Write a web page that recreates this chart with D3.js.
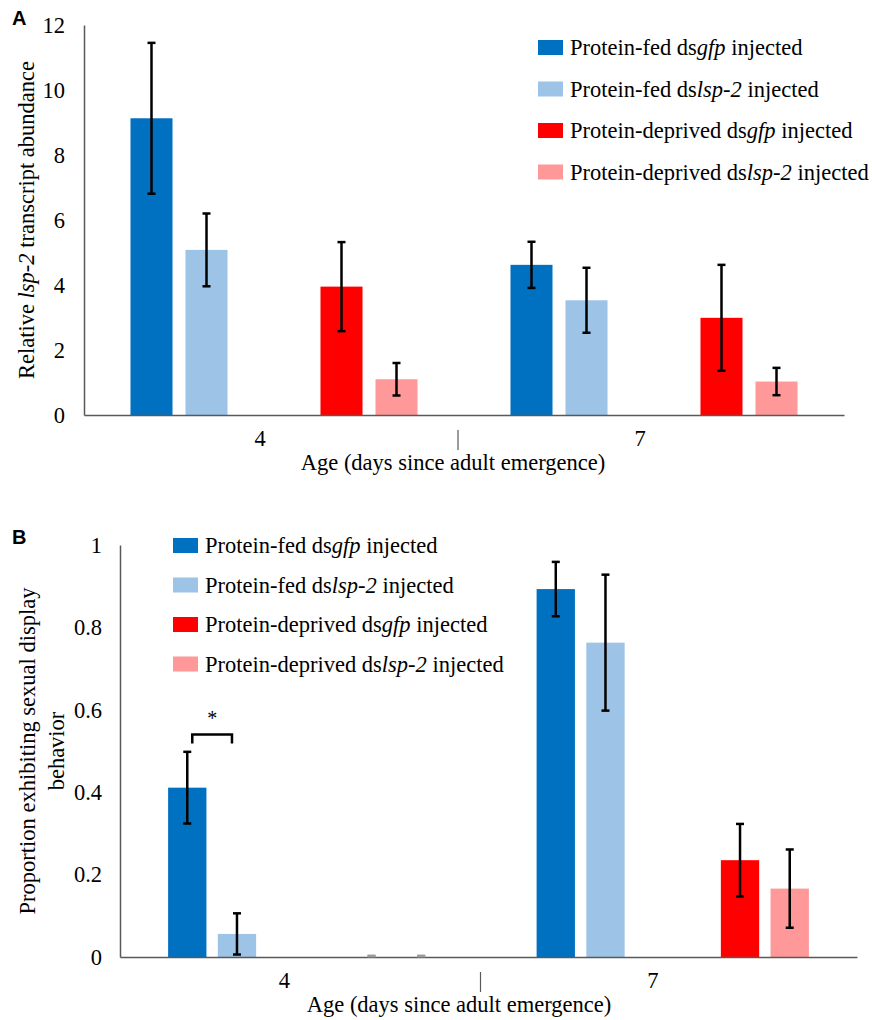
<!DOCTYPE html>
<html>
<head>
<meta charset="utf-8">
<script src="https://cdn.jsdelivr.net/npm/d3@7/dist/d3.min.js"></script>
<style>
  body { margin: 0; background: #fff; }
  .axis path { stroke: #595959; stroke-width: 1.5; }
</style>
</head>
<body>
<div id="chart"></div>
<script>
// categories
const days = ['4', '7'];
const diets = ['fed', 'deprived'];
const treatments = ['gfp', 'lsp'];

// legend labels, [plain, italic, plain]
const legendLabels = [
    ['Protein-fed ds', 'gfp', ' injected'],
    ['Protein-fed ds', 'lsp-2', ' injected'],
    ['Protein-deprived ds', 'gfp', ' injected'],
    ['Protein-deprived ds', 'lsp-2', ' injected']
];

// order: day4 fed gfp, day4 fed lsp, day4 dep gfp, day4 dep lsp, then day 7 the same
const transcriptMean = [9.13, 5.08, 3.95, 1.10, 4.62, 3.53, 2.99, 1.03];
const transcriptErr  = [2.32, 1.12, 1.37, 0.50, 0.71, 1.00, 1.63, 0.42];
const displayMean = [0.411, 0.056, 0, 0, 0.893, 0.763, 0.235, 0.166];
const displayErr  = [0.087, 0.050, 0, 0, 0.066, 0.165, 0.088, 0.095];

// y tick values
const transcriptTicks = [0, 2, 4, 6, 8, 10, 12];
const displayTicks = [0, 0.2, 0.4, 0.6, 0.8, 1];

// significance bracket (panel B)
const sigMarks = [{day: '4', diet: 'fed', y: 0.54, label: '*'}];

const colors = {
    'fed-gfp': '#0070C0',
    'fed-lsp': '#9DC3E6',
    'deprived-gfp': '#FF0000',
    'deprived-lsp': '#FF9999'
};

const SERIF = '"Liberation Serif", "Times New Roman", Times, serif';
const FS = 22.5;

// build rows from the flat arrays
function toRows(means, errs) {
    return means.map((m, i) => ({
        day: days[Math.floor(i / 4)],
        diet: diets[Math.floor(i / 2) % 2],
        treat: treatments[i % 2],
        value: m,
        err: errs[i]
    }));
}

// write a label made of plain/italic pieces
function richText(sel, parts) {
    parts.forEach((p, i) => {
        sel.append('tspan')
            .attr('font-style', i % 2 === 1 ? 'italic' : 'normal')
            .text(p);
    });
}

const svg = d3.select('#chart')
    .append('svg')
    .attr('width', 872)
    .attr('height', 1020)
    .style('background', '#fff');

function barPanel(opt) {
    const g = svg.append('g');
    const data = toRows(opt.means, opt.errs);

    // scales
    const xDay = d3.scaleBand()
        .domain(days)
        .range([opt.left, opt.right]);
    const xDiet = d3.scaleBand()
        .domain(diets)
        .range([0, xDay.bandwidth()]);
    const xTreat = d3.scaleBand()
        .domain(treatments)
        .range([0, xDiet.bandwidth()])
        .paddingInner(opt.padIn)
        .paddingOuter(opt.padOut);
    const y = d3.scaleLinear()
        .domain(opt.domain)
        .range([opt.bottom, opt.top]);

    const xOf = d => xDay(d.day) + xDiet(d.diet) + xTreat(d.treat);

    // bars
    g.selectAll('.bar')
        .data(data)
        .enter()
        .append('rect')
        .attr('class', 'bar')
        .attr('x', d => xOf(d))
        .attr('y', d => y(d.value))
        .attr('width', xTreat.bandwidth())
        .attr('height', d => y(0) - y(d.value))
        .attr('fill', d => colors[d.diet + '-' + d.treat]);

    // y axis
    const axisY = d3.axisLeft(y)
        .tickValues(opt.ticks)
        .tickFormat(d3.format('~g'))
        .tickSize(0)
        .tickSizeOuter(0)
        .tickPadding(opt.tickPad);
    g.append('g')
        .attr('class', 'axis')
        .attr('transform', `translate(${opt.left},0)`)
        .call(axisY);

    // x axis
    const axisX = d3.axisBottom(xDay)
        .tickSize(0)
        .tickSizeOuter(0)
        .tickPadding(15);
    const axX = g.append('g')
        .attr('class', 'axis')
        .attr('transform', `translate(0,${opt.bottom})`)
        .call(axisX);
    axX.selectAll('text').attr('dx', opt.labelShift);

    g.selectAll('.axis')
        .attr('font-family', SERIF)
        .attr('font-size', FS);

    // separator between the day groups
    g.append('line')
        .attr('x1', xDay('7') + opt.sepShift).attr('x2', xDay('7') + opt.sepShift)
        .attr('y1', opt.bottom + 15).attr('y2', opt.bottom + 35)
        .attr('stroke', '#595959')
        .attr('stroke-width', 1.2);

    // x title
    g.append('text')
        .attr('x', opt.titleX)
        .attr('y', opt.bottom + 55)
        .attr('text-anchor', 'middle')
        .attr('font-size', FS)
        .text('Age (days since adult emergence)');

    // error bars
    const cap = 4;
    const eb = g.selectAll('.err')
        .data(data)
        .enter()
        .append('g')
        .attr('class', 'err')
        .attr('stroke', d => d.value === 0 ? '#9a9a9a' : '#000')
        .attr('stroke-width', 2.5);
    eb.append('line')
        .attr('x1', d => xOf(d) + xTreat.bandwidth() / 2)
        .attr('x2', d => xOf(d) + xTreat.bandwidth() / 2)
        .attr('y1', d => y(d.value + d.err))
        .attr('y2', d => y(Math.max(0, d.value - d.err)));
    eb.append('line')
        .attr('x1', d => xOf(d) + xTreat.bandwidth() / 2 - cap)
        .attr('x2', d => xOf(d) + xTreat.bandwidth() / 2 + cap)
        .attr('y1', d => y(d.value + d.err) - (d.value === 0 ? 1 : 0))
        .attr('y2', d => y(d.value + d.err) - (d.value === 0 ? 1 : 0));
    eb.append('line')
        .attr('x1', d => xOf(d) + xTreat.bandwidth() / 2 - cap)
        .attr('x2', d => xOf(d) + xTreat.bandwidth() / 2 + cap)
        .attr('y1', d => y(Math.max(0, d.value - d.err)) - (d.value === 0 ? 1 : 0))
        .attr('y2', d => y(Math.max(0, d.value - d.err)) - (d.value === 0 ? 1 : 0));

    // significance brackets
    (opt.sig || []).forEach(s => {
        const xa = xDay(s.day) + xDiet(s.diet) + xTreat('gfp') + xTreat.bandwidth() / 2 + 5;
        const xb = xDay(s.day) + xDiet(s.diet) + xTreat('lsp') + xTreat.bandwidth() / 2 - 5;
        const yb = y(s.y);
        g.append('path')
            .attr('d', `M${xa},${yb + 9}V${yb}H${xb}V${yb + 9}`)
            .attr('fill', 'none')
            .attr('stroke', '#000')
            .attr('stroke-width', 2.5);
        g.append('text')
            .attr('x', (xa + xb) / 2)
            .attr('y', yb - 10)
            .attr('text-anchor', 'middle')
            .attr('font-size', 20)
            .text(s.label);
    });

    // legend
    const lg = g.append('g')
        .attr('transform', `translate(${opt.legendX},${opt.legendY})`);
    const item = lg.selectAll('.item')
        .data(legendLabels)
        .enter()
        .append('g')
        .attr('class', 'item')
        .attr('transform', (d, i) => `translate(0,${i * opt.legendStep})`);
    item.append('rect')
        .attr('x', 0)
        .attr('y', -7)
        .attr('width', 25)
        .attr('height', 15)
        .attr('fill', (d, i) => colors[diets[Math.floor(i / 2)] + '-' + treatments[i % 2]]);
    item.append('text')
        .attr('x', 32)
        .attr('y', 8)
        .attr('font-size', FS)
        .each(function(d) { richText(d3.select(this), d); });

    // all serif text so far
    g.selectAll('text').style('font-family', SERIF).attr('fill', '#000');

    // panel letter
    g.append('text')
        .attr('x', 12)
        .attr('y', opt.letterY)
        .attr('font-weight', 'bold')
        .attr('font-size', 20)
        .style('font-family', '"Liberation Sans", Arial, sans-serif')
        .text(opt.letter);

    return {g, y};
}

// panel A
const pA = barPanel({
    means: transcriptMean, errs: transcriptErr,
    left: 84, right: 844, top: 25, bottom: 415,
    domain: [0, 12], ticks: transcriptTicks, tickPad: 19,
    padIn: 0.236, padOut: 0.845,
    labelShift: -14, sepShift: -6, titleX: 453,
    legendX: 538, legendY: 47, legendStep: 41.5,
    letter: 'A', letterY: 25
});
pA.g.append('text')
    .attr('transform', `translate(34,${(25 + 415) / 2}) rotate(-90)`)
    .attr('text-anchor', 'middle')
    .attr('font-size', FS)
    .style('font-family', SERIF)
    .each(function() { richText(d3.select(this), ['Relative ', 'lsp-2', ' transcript abundance']); });

// panel B
const pB = barPanel({
    means: displayMean, errs: displayErr,
    left: 120, right: 857, top: 545, bottom: 957,
    domain: [0, 1], ticks: displayTicks, tickPad: 18,
    padIn: 0.229, padOut: 0.968,
    labelShift: -20, sepShift: -8, titleX: 459,
    legendX: 173, legendY: 545, legendStep: 39.5,
    letter: 'B', letterY: 544,
    sig: sigMarks
});
const yTitleB = pB.g.append('text')
    .attr('transform', `translate(35,${(545 + 957) / 2}) rotate(-90)`)
    .attr('text-anchor', 'middle')
    .attr('font-size', FS)
    .style('font-family', SERIF);
yTitleB.append('tspan').attr('x', 0).attr('y', 0).text('Proportion exhibiting sexual display');
yTitleB.append('tspan').attr('x', 0).attr('y', 29).text('behavior');
</script>
</body>
</html>
